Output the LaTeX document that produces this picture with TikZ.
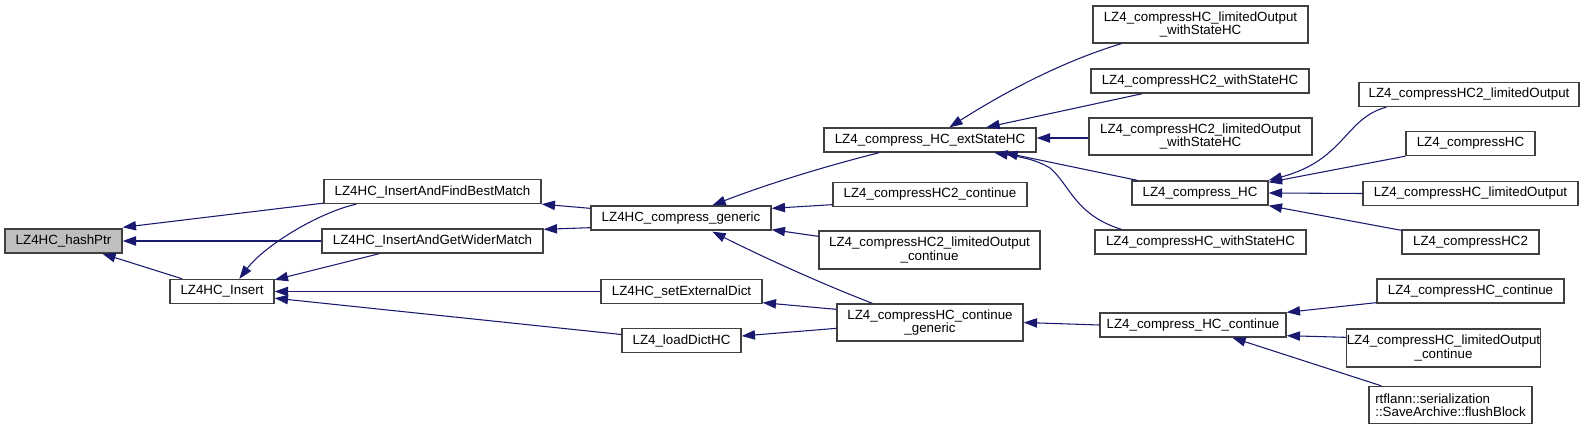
\documentclass[tikz,border=0pt]{standalone}
\usepackage{fontspec}
\setmainfont{Liberation Sans}
\usetikzlibrary{arrows.meta,calc}
\definecolor{edgeblue}{HTML}{191970}
\definecolor{boxgray}{HTML}{404040}
\definecolor{fillgray}{HTML}{BFBFBF}
\begin{document}
\begin{tikzpicture}[x=0.75pt,y=-0.75pt,
  fnbox/.style={draw=boxgray, line width=1pt, fill=white, inner sep=0pt,
    font=\fontsize{10}{10}\selectfont, align=center},
  dim/.style 2 args={minimum width=#1*0.75pt, minimum height=#2*0.75pt},
  calls/.style={draw=edgeblue, line width=0.8pt, -{Triangle[length=10pt,width=7pt]}}]
\useasboundingbox (0,0) rectangle (1587,435);

% nodes
\node[fnbox, fill=fillgray, dim={117}{24}] (hash) at (63.5,241) {LZ4HC\_hashPtr};
\node[fnbox, dim={104}{24}] (ins) at (222,291.5) {LZ4HC\_Insert};
\node[fnbox, dim={217}{24}] (fbm) at (432.5,191.5) {LZ4HC\_InsertAndFindBestMatch};
\node[fnbox, dim={221}{24}] (gwm) at (432.5,241) {LZ4HC\_InsertAndGetWiderMatch};
\node[fnbox, dim={180}{24}] (gen) at (681,218) {LZ4HC\_compress\_generic};
\node[fnbox, dim={161}{24}] (sed) at (681.5,291.5) {LZ4HC\_setExternalDict};
\node[fnbox, dim={119}{24}] (ld) at (681.5,340.5) {LZ4\_loadDictHC};
\node[fnbox, dim={212}{24}] (ext) at (930,140) {LZ4\_compress\_HC\_extStateHC};
\node[fnbox, dim={194}{24}] (c2c) at (930,194.5) {LZ4\_compressHC2\_continue};
\node[fnbox, dim={221}{38}] (c2lc) at (929.5,250) {LZ4\_compressHC2\_limitedOutput\\\_continue};
\node[fnbox, dim={186}{37}] (cg) at (930,322.5) {LZ4\_compressHC\_continue\\\_generic};
\node[fnbox, dim={215}{37}] (lows) at (1200.5,24.5) {LZ4\_compressHC\_limitedOutput\\\_withStateHC};
\node[fnbox, dim={218}{24}] (c2ws) at (1200,81) {LZ4\_compressHC2\_withStateHC};
\node[fnbox, dim={223}{37}] (c2lows) at (1200.5,136.5) {LZ4\_compressHC2\_limitedOutput\\\_withStateHC};
\node[fnbox, dim={136}{24}] (chc) at (1200,193) {LZ4\_compress\_HC};
\node[fnbox, dim={211}{24}] (cws) at (1200.5,242) {LZ4\_compressHC\_withStateHC};
\node[fnbox, dim={186}{24}] (chcont) at (1193,325) {LZ4\_compress\_HC\_continue};
\node[fnbox, dim={220}{24}] (c2lo) at (1469,94.5) {LZ4\_compressHC2\_limitedOutput};
\node[fnbox, dim={129}{24}] (chcc) at (1470.5,143.5) {LZ4\_compressHC};
\node[fnbox, dim={215}{24}] (clo) at (1470.5,193.5) {LZ4\_compressHC\_limitedOutput};
\node[fnbox, dim={137}{24}] (chc2) at (1470.5,242) {LZ4\_compressHC2};
\node[fnbox, dim={187}{24}] (cc) at (1470.5,291) {LZ4\_compressHC\_continue};
\node[fnbox, dim={191}{38}] (cloc) at (1443.5,348) {LZ4\_compressHC\_limitedOutput\\\_continue};
\node[fnbox, dim={163}{37}, align=left] (rt) at (1450.5,405) {rtflann::serialization\\::SaveArchive::flushBlock};

% edges (caller -> callee)
\draw[calls] ($(fbm.south west)+(0,-1)$) -- ($(hash.north east)+(0,-1)$);
\draw[calls] (gwm.west) -- (hash.east);
\draw[calls] ($(ins.north west)+(13,0)$) -- ($(hash.south west)+(98,0)$);
\draw[calls] ($(fbm.south west)+(33,0)$) .. controls (320,212) and (265,245) .. ($(ins.north west)+(70,0)$);
\draw[calls] ($(gwm.south west)+(58,0)$) -- ($(ins.north east)+(0,1)$);
\draw[calls] (sed.west) -- (ins.east);
\draw[calls] ($(ld.west)+(0,-6)$) -- ($(ins.south east)+(0,-6)$);

\draw[calls] ($(gen.north west)+(0,3)$) -- (fbm.south east);
\draw[calls] ($(gen.south west)+(0,-3)$) -- ($(gwm.north east)+(0,1)$);

\draw[calls] ($(ext.south west)+(56,0)$) .. controls (830,165) and (770,183) .. ($(gen.north west)+(122,0)$);
\draw[calls] ($(c2c.south west)+(0,-2.5)$) -- ($(gen.north east)+(0,3)$);
\draw[calls] ($(c2lc.north west)+(0,6)$) -- ($(gen.south east)+(0,-1)$);
\draw[calls] ($(cg.north west)+(36,0)$) .. controls (820,283) and (765,258) .. ($(gen.south west)+(122,1)$);
\draw[calls] ($(cg.north west)+(0,6)$) -- ($(sed.south east)+(0,-1.5)$);
\draw[calls] ($(cg.north west)+(0,25)$) -- ($(ld.east)+(0,-4.5)$);

\draw[calls] ($(lows.south west)+(29,0)$) .. controls (1060,62) and (1000,95) .. ($(ext.north west)+(126,0)$);
\draw[calls] ($(c2ws.south west)+(52,0)$) -- ($(ext.north west)+(163,0)$);
\draw[calls] ($(c2lows.west)+(0,1.5)$) -- ($(ext.east)+(0,-2)$);
\draw[calls] ($(chc.north west)+(6,0)$) -- ($(ext.south west)+(181,0)$);
\draw[calls] ($(cws.north west)+(27,0)$) .. controls (1075,215) and (1070,185) .. (1050,168)
   .. controls (1035,159) and (1020,157) .. ($(ext.south west)+(171,0)$);

\draw[calls] ($(c2lo.south west)+(28,0)$) .. controls (1345,118) and (1345,160) .. (chc.north east);
\draw[calls] (chcc.south west) -- ($(chc.north east)+(0,2)$);
\draw[calls] (clo.west) -- (chc.east);
\draw[calls] ($(chc2.north west)+(0,1)$) -- (chc.south east);

\draw[calls] (chcont.west) -- (cg.east);
\draw[calls] ($(cc.south west)+(0,-1)$) -- (chcont.north east);
\draw[calls] ($(cloc.north west)+(0,9)$) -- ($(chcont.south east)+(0,-2)$);
\draw[calls] ($(rt.north west)+(13,0)$) -- ($(chcont.south west)+(133,0)$);
\end{tikzpicture}
\end{document}
